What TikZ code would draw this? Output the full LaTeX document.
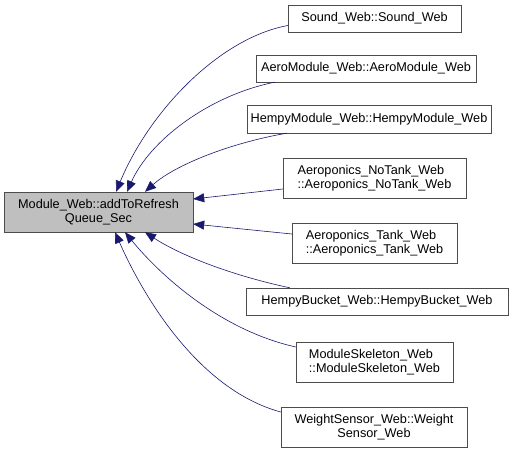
\documentclass[tikz,border=0pt]{standalone}
\usepackage{fontspec}
\setmainfont{Liberation Sans}
\usetikzlibrary{arrows.meta}

\tikzset{
  fn/.style={draw=black!70, fill=white, font=\fontsize{12.7}{14}\selectfont, inner sep=0pt},
  calls/.style={draw=midnight, semithick, {Triangle[length=11pt,width=9pt]}-}
}
\definecolor{midnight}{HTML}{191970}

\begin{document}
\begin{tikzpicture}[x=1pt,y=-1pt]
      \useasboundingbox (0,0) rectangle (513,453);
      % the function and its callers
      \node[fn, fill=black!25, minimum width=189pt, minimum height=40pt, align=center] (main) at (98.5,212) {Module\_Web::addToRefresh\\Queue\_Sec};
      \node[fn, minimum width=173pt, minimum height=27pt] (sound) at (374.5,18.5) {Sound\_Web::Sound\_Web};
      \node[fn, minimum width=220pt, minimum height=27pt] (aero) at (366,68.5) {AeroModule\_Web::AeroModule\_Web};
      \node[fn, minimum width=244pt, minimum height=28pt] (hempymod) at (369,119) {HempyModule\_Web::HempyModule\_Web};
      \node[fn, minimum width=183pt, minimum height=40pt, align=left] (notank) at (374.5,178) {Aeroponics\_NoTank\_Web\\::Aeroponics\_NoTank\_Web};
      \node[fn, minimum width=165pt, minimum height=40pt, align=left] (tank) at (374.5,243) {Aeroponics\_Tank\_Web\\::Aeroponics\_Tank\_Web};
      \node[fn, minimum width=262pt, minimum height=27pt] (bucket) at (377,301.5) {HempyBucket\_Web::HempyBucket\_Web};
      \node[fn, minimum width=157pt, minimum height=40pt, align=left] (skeleton) at (374.5,362) {ModuleSkeleton\_Web\\::ModuleSkeleton\_Web};
      \node[fn, minimum width=186pt, minimum height=40pt, align=center] (weight) at (374,427) {WeightSensor\_Web::Weight\\Sensor\_Web};
      % call edges
      \draw[calls] ([xshift=17.5pt]main.north) .. controls (150,110) and (220,38) .. ([yshift=-7pt]sound.west);
      \draw[calls] ([xshift=28.5pt]main.north) .. controls (150,140) and (210,95) .. ([xshift=19pt]aero.south west);
      \draw[calls] ([xshift=46.5pt]main.north) .. controls (175,165) and (230,143) .. ([xshift=40pt]hempymod.south west);
      \draw[calls] ([yshift=13pt]main.east) -- ([yshift=-11pt]notank.west);
      \draw[calls] ([yshift=-12pt]main.east) -- ([yshift=9pt]tank.west);
      \draw[calls] ([xshift=46.5pt]main.south) .. controls (180,255) and (230,275) .. ([xshift=44pt]bucket.north west);
      \draw[calls] ([xshift=26.5pt]main.south) .. controls (160,275) and (220,330) .. ([yshift=15pt]skeleton.west);
      \draw[calls] ([xshift=16.5pt]main.south) .. controls (145,300) and (200,390) .. ([yshift=15pt]weight.west);
\end{tikzpicture}
\end{document}
